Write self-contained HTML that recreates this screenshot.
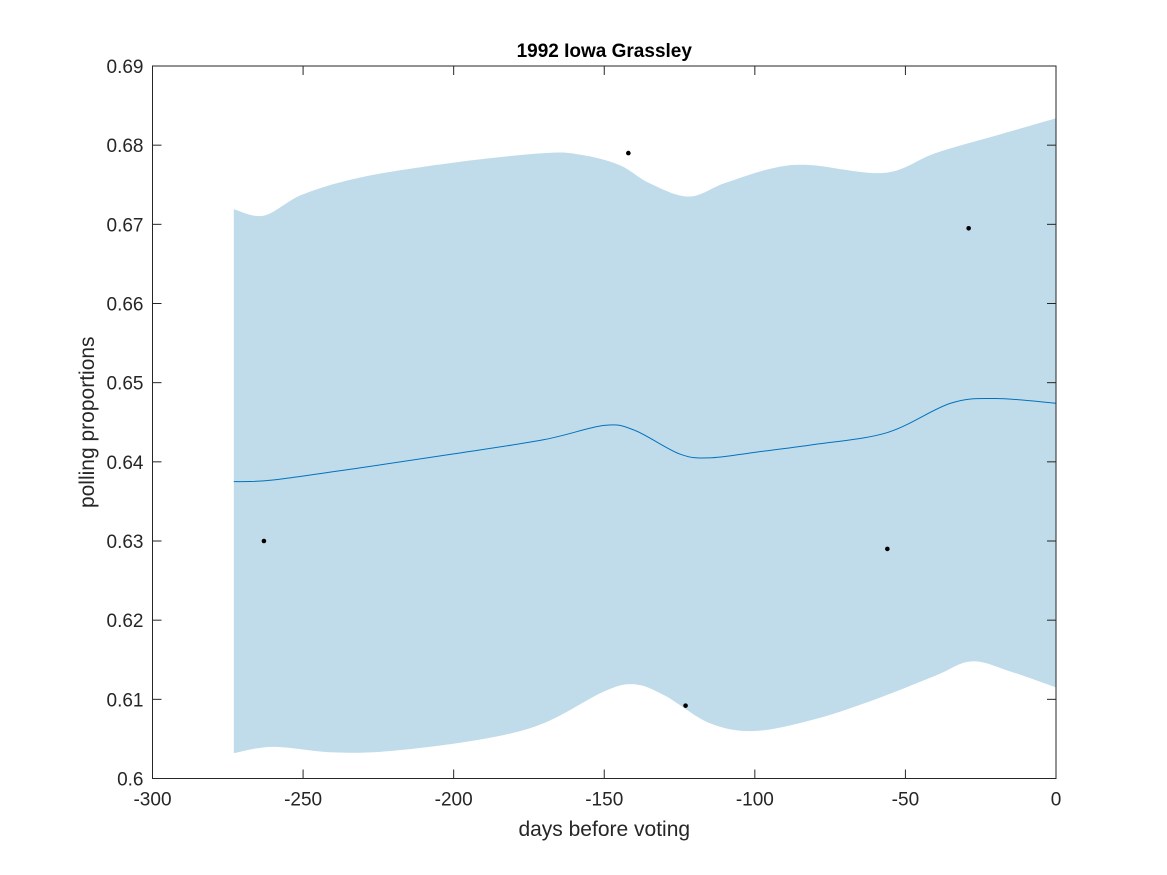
<!DOCTYPE html>
<html><head><meta charset="utf-8"><style>
body{margin:0;background:#fff;}
svg{display:block;font-family:"Liberation Sans",Arial,sans-serif;}
</style></head><body>
<svg id="chart" width="1167" height="875">
<rect width="1167" height="875" fill="#fff"/>
<g id="plot"></g>
</svg>
<script>
const days=[-273,-263,-250,-230,-200,-170,-158,-145,-135,-122,-110,-95,-82,-57,-40,-20,0];
const upper=[0.6719,0.6711,0.6738,0.6760,0.6778,0.6790,0.6788,0.6775,0.6752,0.6735,0.6752,0.6770,0.6775,0.6765,0.6790,0.6812,0.6834];
const lowDays=[-273,-260,-240,-220,-190,-170,-150,-140,-130,-115,-100,-80,-60,-40,-28,-15,0];
const lower=[0.6032,0.6040,0.6033,0.6035,0.6050,0.6070,0.6110,0.6119,0.6105,0.6070,0.6060,0.6075,0.6100,0.6130,0.6148,0.6135,0.6115];
const meanDays=[-273,-260,-230,-200,-170,-150,-140,-125,-115,-100,-80,-56,-35,-20,0];
const mean=[0.6375,0.6377,0.6393,0.6410,0.6428,0.6446,0.6440,0.6410,0.6405,0.6412,0.6422,0.6437,0.6474,0.6480,0.6474];
const ptDays=[-263,-142,-123,-56,-29];
const ptVals=[0.630,0.679,0.6092,0.629,0.6695];
const xTicks=[-300,-250,-200,-150,-100,-50,0];
const yTicks=[0.6,0.61,0.62,0.63,0.64,0.65,0.66,0.67,0.68,0.69];

const L=152.5,R=1056,T=66,B=778.5;
const sx=d=>L+(d+300)/300*(R-L);
const sy=v=>B-(v-0.6)/0.09*(B-T);
const NS='http://www.w3.org/2000/svg';
const g=document.getElementById('plot');
function mk(t,a){const e=document.createElementNS(NS,t);for(const k in a)e.setAttribute(k,a[k]);g.appendChild(e);return e;}
function smooth(xs,ys,move){
  const p=xs.map((x,i)=>[sx(x),sy(ys[i])]);
  let s=(move?'M':'L')+p[0][0]+','+p[0][1];
  for(let i=0;i<p.length-1;i++){
    const p0=p[Math.max(0,i-1)],p1=p[i],p2=p[i+1],p3=p[Math.min(p.length-1,i+2)];
    s+=' C'+(p1[0]+(p2[0]-p0[0])/6)+','+(p1[1]+(p2[1]-p0[1])/6)+' '+(p2[0]-(p3[0]-p1[0])/6)+','+(p2[1]-(p3[1]-p1[1])/6)+' '+p2[0]+','+p2[1];
  }
  return s;
}
let d=smooth(days,upper,true);
d+=' '+smooth(lowDays.slice().reverse(),lower.slice().reverse(),false)+' Z';
let band=mk('path',{d:d,fill:'#c0dcea',stroke:'none'});


let ml=mk('path',{d:smooth(meanDays,mean,true),fill:'none',stroke:'#0072bd','stroke-width':1});


ptDays.forEach((x,i)=>{
  const c=mk('circle',{cx:sx(x),cy:sy(ptVals[i]),r:2.3,fill:'#000'});
  
  
});
let box=mk('rect',{x:L,y:T,width:R-L,height:B-T,fill:'none',stroke:'#262626','stroke-width':1});


xTicks.forEach(t=>{
  const x=sx(t);
  mk('line',{x1:x,x2:x,y1:B,y2:B-9,stroke:'#262626'});
  mk('line',{x1:x,x2:x,y1:T,y2:T+9,stroke:'#262626'});
  const tx=mk('text',{x:x,y:B+27,'text-anchor':'middle','font-size':19,fill:'#262626'});
  tx.textContent=t;
  
  
});
yTicks.forEach(t=>{
  const y=sy(t);
  mk('line',{x1:L,x2:L+9,y1:y,y2:y,stroke:'#262626'});
  mk('line',{x1:R,x2:R-9,y1:y,y2:y,stroke:'#262626'});
  const tx=mk('text',{x:L-9,y:y+7,'text-anchor':'end','font-size':19,fill:'#262626'});
  tx.textContent=t===0.6?'0.6':t.toFixed(2);
  
  
});
let ti=mk('text',{x:(L+R)/2,y:57,'text-anchor':'middle','font-size':19,'font-weight':'bold',fill:'#000'});
ti.textContent='1992 Iowa Grassley';


let xl=mk('text',{x:(L+R)/2,y:836,'text-anchor':'middle','font-size':21,fill:'#262626'});
xl.textContent='days before voting';


let yl=mk('text',{x:0,y:0,'text-anchor':'middle','font-size':21,fill:'#262626',transform:'translate(94,'+((T+B)/2)+') rotate(-90)'});
yl.textContent='polling proportions';


</script>
</body></html>
